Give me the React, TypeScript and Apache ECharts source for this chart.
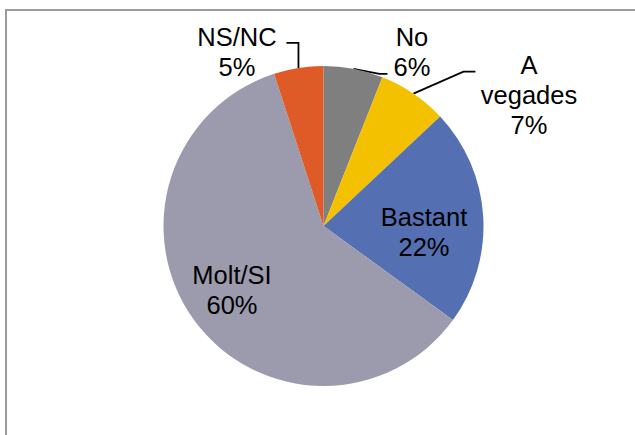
import React, { useEffect, useRef } from "react";
import * as echarts from "echarts";

const categories = ["No", "A vegades", "Bastant", "Molt/SI", "NS/NC"];
const values = [6, 7, 22, 60, 5];
const labelTexts = ["No", "A\nvegades", "Bastant", "Molt/SI", "NS/NC"];
const colors = ["#7f7f7f", "#f4c100", "#5470b3", "#9b9bad", "#de5a26"];
const insideIdx = [2, 3];

// label block centres (px) and leader-line bends relative to the slice edge point
const labelCentres: number[][] = [[412, 52], [529, 95], [424, 232], [232, 290], [237, 52]];
const bends: number[][][] = [
  [[26, 5], [34, 5]],
  [[50, -22], [62, -22]],
  [],
  [],
  [[0, -25], [-12, -25]],
];

export default function App() {
  const ref = useRef<HTMLDivElement>(null);
  useEffect(() => {
    if (!ref.current) return;
    const chart = echarts.init(ref.current, undefined, { renderer: "svg" });
    chart.setOption({
      animation: false,
      backgroundColor: "#ffffff",
      graphic: [
        {
          type: "rect",
          shape: { x: 6, y: 10, width: 660, height: 460 },
          style: { fill: "none", stroke: "#9a9a9a", lineWidth: 2 },
          silent: true,
        },
      ],
      series: [
        {
          type: "pie",
          center: [323.5, 226],
          radius: [0, 160],
          startAngle: 90,
          clockwise: true,
          avoidLabelOverlap: false,
          itemStyle: { borderWidth: 0 },
          label: {
            show: true,
            position: "outside",
            color: "#000",
            fontFamily: "Liberation Sans, Arial, sans-serif",
            fontSize: 25.5,
            lineHeight: 30,
            align: "center",
            formatter: (p: any) => `${labelTexts[p.dataIndex]}\n${Math.round(p.percent)}%`,
          },
          labelLine: { show: true, lineStyle: { color: "#000", width: 1.8 } },
          labelLayout: (p: any) => {
            const i = p.dataIndex;
            const out: any = {
              x: labelCentres[i][0],
              y: labelCentres[i][1],
              align: "center",
              verticalAlign: "middle",
            };
            if (p.labelLinePoints && bends[i].length) {
              const s = p.labelLinePoints[0];
              out.labelLinePoints = [
                [s[0], s[1]],
                ...bends[i].map((b) => [s[0] + b[0], s[1] + b[1]]),
              ];
            }
            return out;
          },
          emphasis: { disabled: true },
          data: categories.map((c, i) => ({
            name: c,
            value: values[i],
            itemStyle: { color: colors[i] },
            ...(insideIdx.includes(i)
              ? { label: { position: "inside" }, labelLine: { show: false } }
              : {}),
          })),
        },
      ],
    });
    return () => chart.dispose();
  }, []);
  return (
    <div
      ref={ref}
      style={{ position: "absolute", left: 0, top: 0, width: 635, height: 435 }}
    />
  );
}
